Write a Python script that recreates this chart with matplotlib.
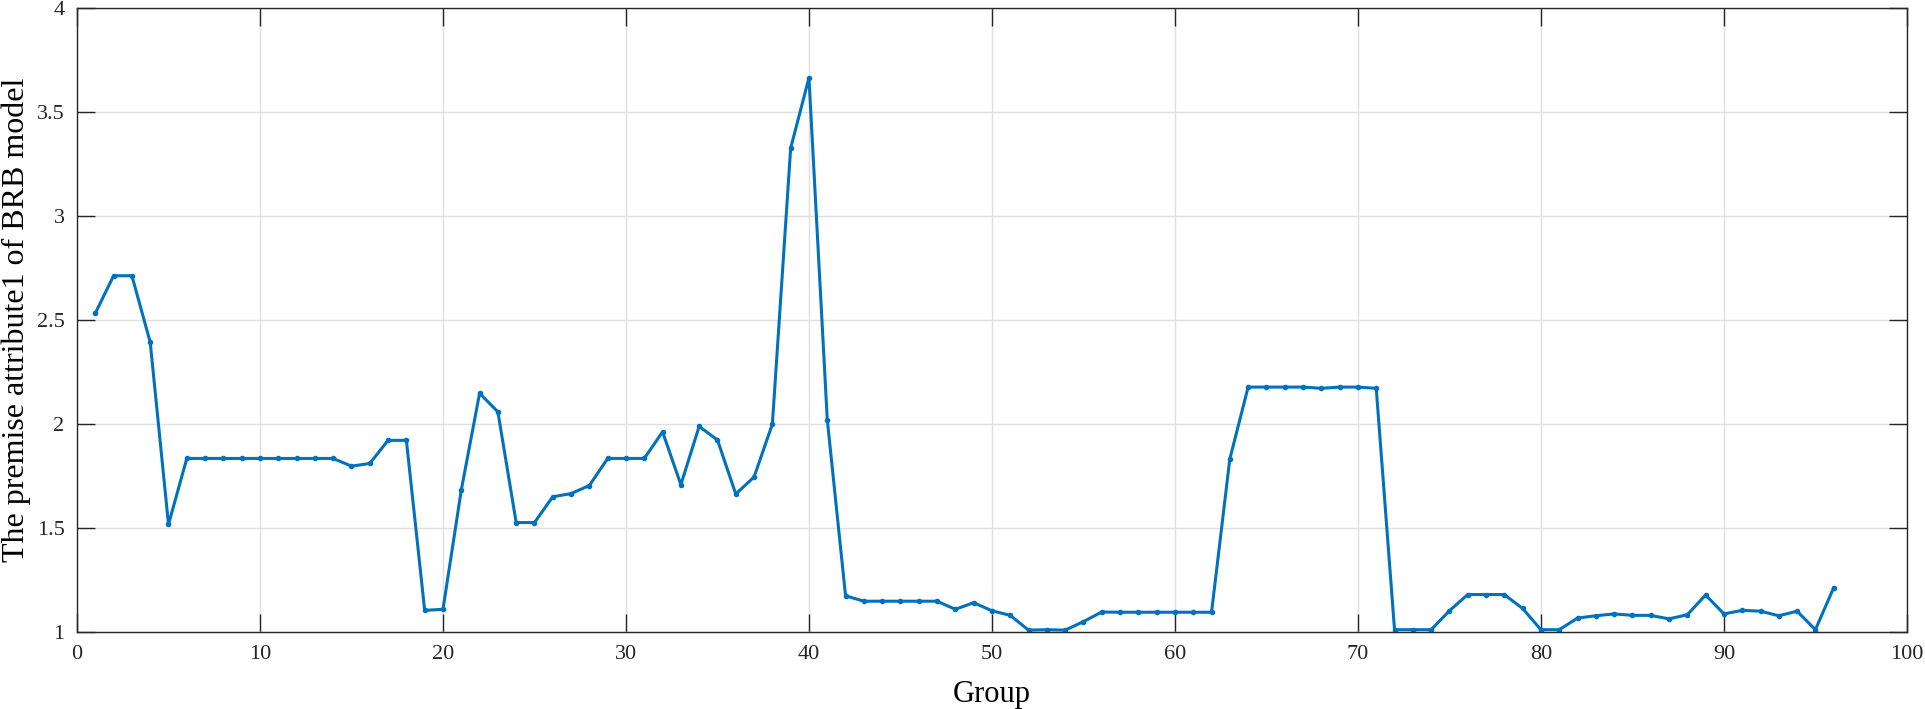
import numpy as np
import matplotlib
matplotlib.use("Agg")
import matplotlib.pyplot as plt

# premise attribute1 value for each group
group = np.arange(1, 97)
attr1 = [2.532, 2.712, 2.712, 2.393, 1.517, 1.834, 1.834, 1.834, 1.834, 1.834,
         1.834, 1.834, 1.834, 1.834, 1.797, 1.810, 1.921, 1.921, 1.104, 1.109,
         1.682, 2.147, 2.058, 1.526, 1.526, 1.650, 1.665, 1.704, 1.834, 1.834,
         1.834, 1.962, 1.708, 1.988, 1.923, 1.663, 1.745, 1.999, 3.325, 3.663,
         2.021, 1.174, 1.148, 1.148, 1.148, 1.148, 1.148, 1.109, 1.141, 1.102,
         1.080, 1.009, 1.011, 1.009, 1.050, 1.096, 1.095, 1.095, 1.095, 1.095,
         1.095, 1.095, 1.832, 2.177, 2.177, 2.177, 2.177, 2.171, 2.177, 2.177,
         2.171, 1.011, 1.011, 1.011, 1.102, 1.180, 1.180, 1.180, 1.113, 1.011,
         1.011, 1.067, 1.078, 1.087, 1.080, 1.080, 1.063, 1.083, 1.178, 1.087,
         1.104, 1.100, 1.078, 1.100, 1.011, 1.213]

xticks = np.arange(0, 101, 10)
yticks = [1, 1.5, 2, 2.5, 3, 3.5, 4]
ytick_labels = ["1", "1.5", "2", "2.5", "3", "3.5", "4"]

plt.rcParams["font.family"] = ["Liberation Serif", "DejaVu Serif"]

fig = plt.figure(figsize=(19.25, 7.09), dpi=100)
ax = fig.add_axes([0.040, 0.1086, 0.9506, 0.8805])

ax.plot(group, attr1, color="#0072BD", linewidth=2.2, marker="o", markersize=3.0)

ax.set_xlim(0, 100)
ax.set_ylim(1, 4)
ax.set_xticks(xticks)
ax.set_yticks(yticks)
ax.set_yticklabels(ytick_labels)
ax.grid(True, color="#dfdfdf", linewidth=1.0)
ax.set_axisbelow(True)

ax.tick_params(direction="in", length=13, width=1.0, top=True, right=True,
               labelsize=16, colors="#262626", pad=9)
for s in ax.spines.values():
    s.set_color("#262626")
    s.set_linewidth(1.0)

ax.set_xlabel("Group", fontsize=22, color="#000000", labelpad=12)
ax.set_ylabel("The premise attribute1 of BRB model", fontsize=23, color="#000000", labelpad=4)

fig.savefig("out.png", dpi=100)
